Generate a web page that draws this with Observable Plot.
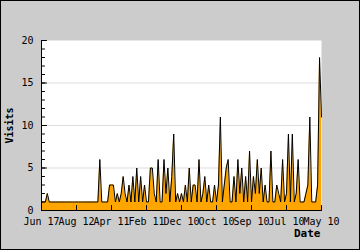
<!DOCTYPE html>
<html><head><meta charset="utf-8">
<script src="https://cdn.jsdelivr.net/npm/d3@7"></script>
<script src="https://cdn.jsdelivr.net/npm/@observablehq/plot@0.6"></script>
<style>
html,body{margin:0;padding:0;background:#fff;}
#chart{width:360px;height:250px;box-sizing:border-box;border:1px solid #000;background:#cccccc;overflow:hidden;}
#chart svg{display:block;}
</style></head><body><div id="chart"></div>
<script>
const visits = [
  1,1,1,2,1,1,1,1,1,1,
  1,1,1,1,1,1,1,1,1,1,
  1,1,1,1,1,1,1,1,1,1,
  6,1,1,1,1,3,3,3,1,2,
  1,2,4,2,1,3,1,4,1,5,
  1,4,1,3,1,1,5,5,2,1,
  6,1,1,6,2,5,1,4,9,1,
  2,1,2,1,3,1,5,1,3,3,
  1,6,1,2,4,1,3,1,1,3,
  1,3,11,1,3,5,6,1,1,4,
  1,6,2,5,1,4,1,7,1,4,
  2,6,2,5,1,3,1,1,7,1,
  1,3,2,1,6,1,2,9,1,9,
  1,2,6,1,1,1,2,3,11,1,
  1,1,3,18,11
];
const dateLabels = ["Jun 17","Aug 12","Apr 11","Feb 11","Dec 10","Oct 10","Sep 10","Jul 10","May 10"];
const labelStep = 18;
const yMajor = [0,5,10,15,20];
const yMinor = d3.range(0, 21);
const yGrid = [5,10,15];
const xTicks = dateLabels.map((_, k) => k * labelStep);
const font = "DejaVu Sans Mono";
const tickShape = {draw(context, l) { context.moveTo(0, 0); context.lineTo(0, -l); }};

const chart = Plot.plot({
  width: 358, height: 248,
  marginLeft: 40, marginRight: 38, marginTop: 39, marginBottom: 39,
  style: {background: "transparent", fontFamily: font, fontSize: "10px", color: "#000", overflow: "visible"},
  x: {domain: [0, visits.length - 1]},
  y: {domain: [0, 20]},
  marks: [
    Plot.frame({fill: "white", stroke: null}),
    Plot.gridY(yGrid, {stroke: "#dddddd", strokeOpacity: 1}),
    Plot.areaY(visits, {x: (d, i) => i, y: d => d, fill: "#ffa500", curve: "linear"}),
    Plot.lineY(visits, {x: (d, i) => i, y: d => d, stroke: "#000", strokeWidth: 1, curve: "linear"}),
    Plot.ruleX([0], {stroke: "#000"}),
    Plot.ruleY([0], {stroke: "#000"}),
    Plot.vector(yMinor, {y: d => d, frameAnchor: "left", rotate: 90, length: 3, anchor: "start", shape: tickShape, stroke: "#000", strokeWidth: 1}),
    Plot.vector(yMajor, {y: d => d, frameAnchor: "left", rotate: 90, length: 5, anchor: "start", shape: tickShape, stroke: "#000", strokeWidth: 1}),
    Plot.vector(xTicks, {x: d => d, frameAnchor: "bottom", rotate: 0, length: 5, anchor: "start", shape: tickShape, stroke: "#000", strokeWidth: 1}),
    Plot.axisY(yMajor, {tickSize: 0, tickPadding: 8, label: null, fontSize: 10, fontFamily: font}),
    Plot.axisX(xTicks, {tickSize: 0, tickPadding: 7, label: null, fontSize: 10, fontFamily: font, tickFormat: d => dateLabels[d / labelStep]}),
    Plot.text(["Date"], {frameAnchor: "bottom-right", text: d => d, textAnchor: "end", dx: -1, dy: 26.5, fontWeight: "bold", fontSize: 11, fontFamily: font}),
    Plot.text(["Visits"], {frameAnchor: "left", text: d => d, rotate: -90, textAnchor: "middle", dx: -32, fontWeight: "bold", fontSize: 10, fontFamily: font})
  ]
});
document.getElementById("chart").appendChild(chart);
</script></body></html>
